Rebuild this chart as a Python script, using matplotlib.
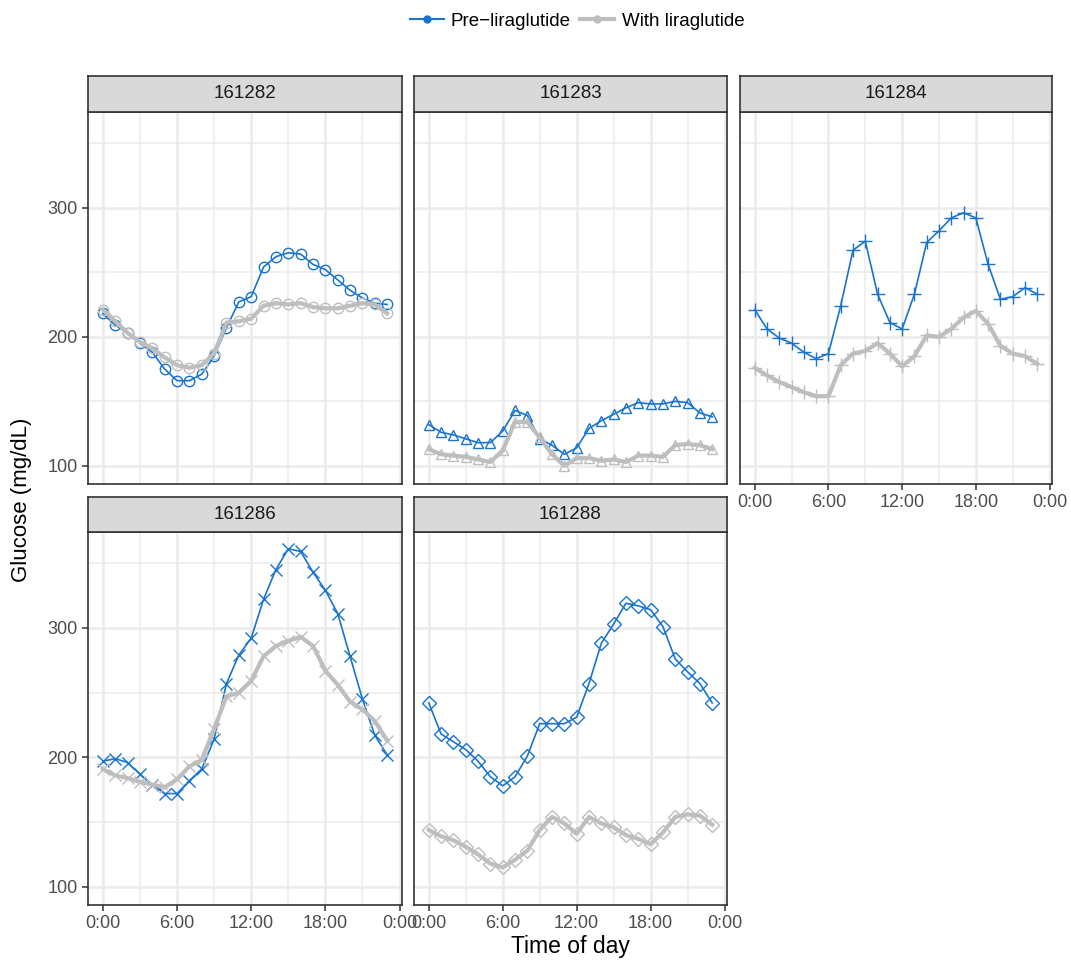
import numpy as np
import matplotlib.pyplot as plt
from matplotlib.lines import Line2D
from matplotlib.ticker import MultipleLocator

plt.rcParams['font.family'] = ['Liberation Sans', 'DejaVu Sans']

# hourly readings, 0:00 .. 23:00
hours = list(range(24))
patients = ['161282', '161283', '161284', '161286', '161288']
shapes = ['o', '^', '+', 'x', 'D']
sizes = [7.5, 7.5, 9.5, 8.5, 7.0]

pre_161282 = [218, 209, 203, 195, 188, 175, 166, 166, 171, 185, 207, 227,
              231, 254, 262, 265, 264, 256, 252, 244, 236, 230, 226, 225]
lira_161282 = [221, 212, 203, 196, 191, 184, 178, 176, 178, 187, 211, 212,
               214, 224, 226, 225, 226, 223, 222, 222, 224, 226, 225, 218]

pre_161283 = [132, 126, 124, 121, 118, 118, 127, 143, 139, 121, 116, 109,
              114, 129, 135, 140, 145, 149, 148, 148, 150, 149, 141, 138]
lira_161283 = [113, 109, 108, 107, 105, 103, 112, 134, 134, 122, 109, 100,
               106, 106, 104, 105, 103, 108, 108, 107, 116, 117, 116, 113]

pre_161284 = [221, 206, 199, 195, 188, 183, 187, 224, 267, 274, 233, 211,
              206, 233, 273, 282, 292, 296, 292, 256, 229, 231, 238, 233]
lira_161284 = [176, 170, 165, 161, 157, 154, 154, 178, 187, 189, 195, 187,
               177, 185, 201, 200, 206, 215, 220, 210, 193, 187, 185, 179]

pre_161286 = [197, 199, 196, 187, 179, 172, 172, 182, 191, 214, 257, 279,
              292, 322, 345, 361, 359, 343, 329, 311, 278, 245, 217, 202]
lira_161286 = [191, 186, 184, 181, 179, 177, 183, 193, 198, 222, 247, 250,
               259, 278, 286, 290, 293, 286, 267, 256, 243, 237, 228, 213]

pre_161288 = [242, 218, 212, 206, 197, 185, 178, 185, 201, 226, 226, 226,
              231, 257, 288, 303, 319, 317, 314, 301, 276, 266, 257, 242]
lira_161288 = [144, 139, 136, 131, 125, 118, 115, 121, 128, 144, 154, 149,
               141, 154, 149, 146, 140, 137, 133, 142, 154, 156, 155, 148]

pre = [pre_161282, pre_161283, pre_161284, pre_161286, pre_161288]
lira = [lira_161282, lira_161283, lira_161284, lira_161286, lira_161288]

blue = '#1874CD'
grey = '#BEBEBE'
dark = '#333333'

W, H = 1071, 961
fig = plt.figure(figsize=(W / 100, H / 100), dpi=100)

cols = [(88, 402), (414, 727), (740, 1052)]
rows = [(76, 112, 484), (497, 532, 905)]  # strip top, panel top, panel bottom
slots = [(0, 0), (0, 1), (0, 2), (1, 0), (1, 1)]
bottom_panels = {2, 3, 4}


def box(x0, x1, y0, y1):
    return [x0 / W, 1 - y1 / H, (x1 - x0) / W, (y1 - y0) / H]


for k, pid in enumerate(patients):
    r, c = slots[k]
    x0, x1 = cols[c]
    st, pt, pb = rows[r]
    ax = fig.add_axes(box(x0, x1, pt, pb))

    ax.plot(hours, pre[k], color=blue, lw=1.2, marker=shapes[k], ms=sizes[k],
            mfc='none', mec=blue, mew=1.0, zorder=3)
    ax.plot(hours, lira[k], color=grey, lw=3.0, marker=shapes[k], ms=sizes[k],
            mfc='none', mec=grey, mew=1.0, zorder=4)

    ax.set_xlim(-1.2, 24.2)
    ax.set_ylim(86, 374)
    ax.xaxis.set_major_locator(MultipleLocator(6))
    ax.xaxis.set_minor_locator(MultipleLocator(3))
    ax.yaxis.set_major_locator(MultipleLocator(100))
    ax.yaxis.set_minor_locator(MultipleLocator(50))
    ax.grid(which='major', color='#EBEBEB', lw=1.8, zorder=0)
    ax.grid(which='minor', color='#EBEBEB', lw=1.1, zorder=0)
    ax.set_axisbelow(True)
    for s in ax.spines.values():
        s.set_color(dark)
        s.set_linewidth(1.2)

    ax.tick_params(which='minor', length=0)
    ax.tick_params(which='major', length=4, width=1.1, color=dark,
                   labelcolor='#4D4D4D', labelsize=13)
    if k in bottom_panels:
        ax.set_xticks([0, 6, 12, 18, 24])
        ax.set_xticklabels(['0:00', '6:00', '12:00', '18:00', '0:00'])
    else:
        ax.tick_params(axis='x', which='major', length=0, labelbottom=False)
    if c != 0:
        ax.tick_params(axis='y', which='major', length=0, labelleft=False)

    # strip
    sax = fig.add_axes(box(x0, x1, st, pt))
    sax.set_facecolor('#D9D9D9')
    sax.set_xticks([])
    sax.set_yticks([])
    for s in sax.spines.values():
        s.set_color(dark)
        s.set_linewidth(1.2)
    sax.text(0.5, 0.5, pid, ha='center', va='center', fontsize=13.5,
             color='#1A1A1A', transform=sax.transAxes)

fig.text(22 / W, 1 - 500 / H, 'Glucose (mg/dL)', rotation=90, ha='center',
         va='center', fontsize=16)
fig.text(570 / W, 1 - 947 / H, 'Time of day', ha='center', va='center',
         fontsize=16.5)

handles = [Line2D([], [], color=blue, lw=1.5, marker='o', ms=5),
           Line2D([], [], color=grey, lw=3.0, marker='o', ms=5)]
fig.legend(handles, ['Pre\u2212liraglutide', 'With liraglutide'],
           loc='center', bbox_to_anchor=(577 / W, 1 - 21 / H), ncol=2,
           frameon=False, fontsize=13.5, handlelength=1.8,
           handletextpad=0.4, columnspacing=0.5)

fig.savefig('out.png', dpi=100)
